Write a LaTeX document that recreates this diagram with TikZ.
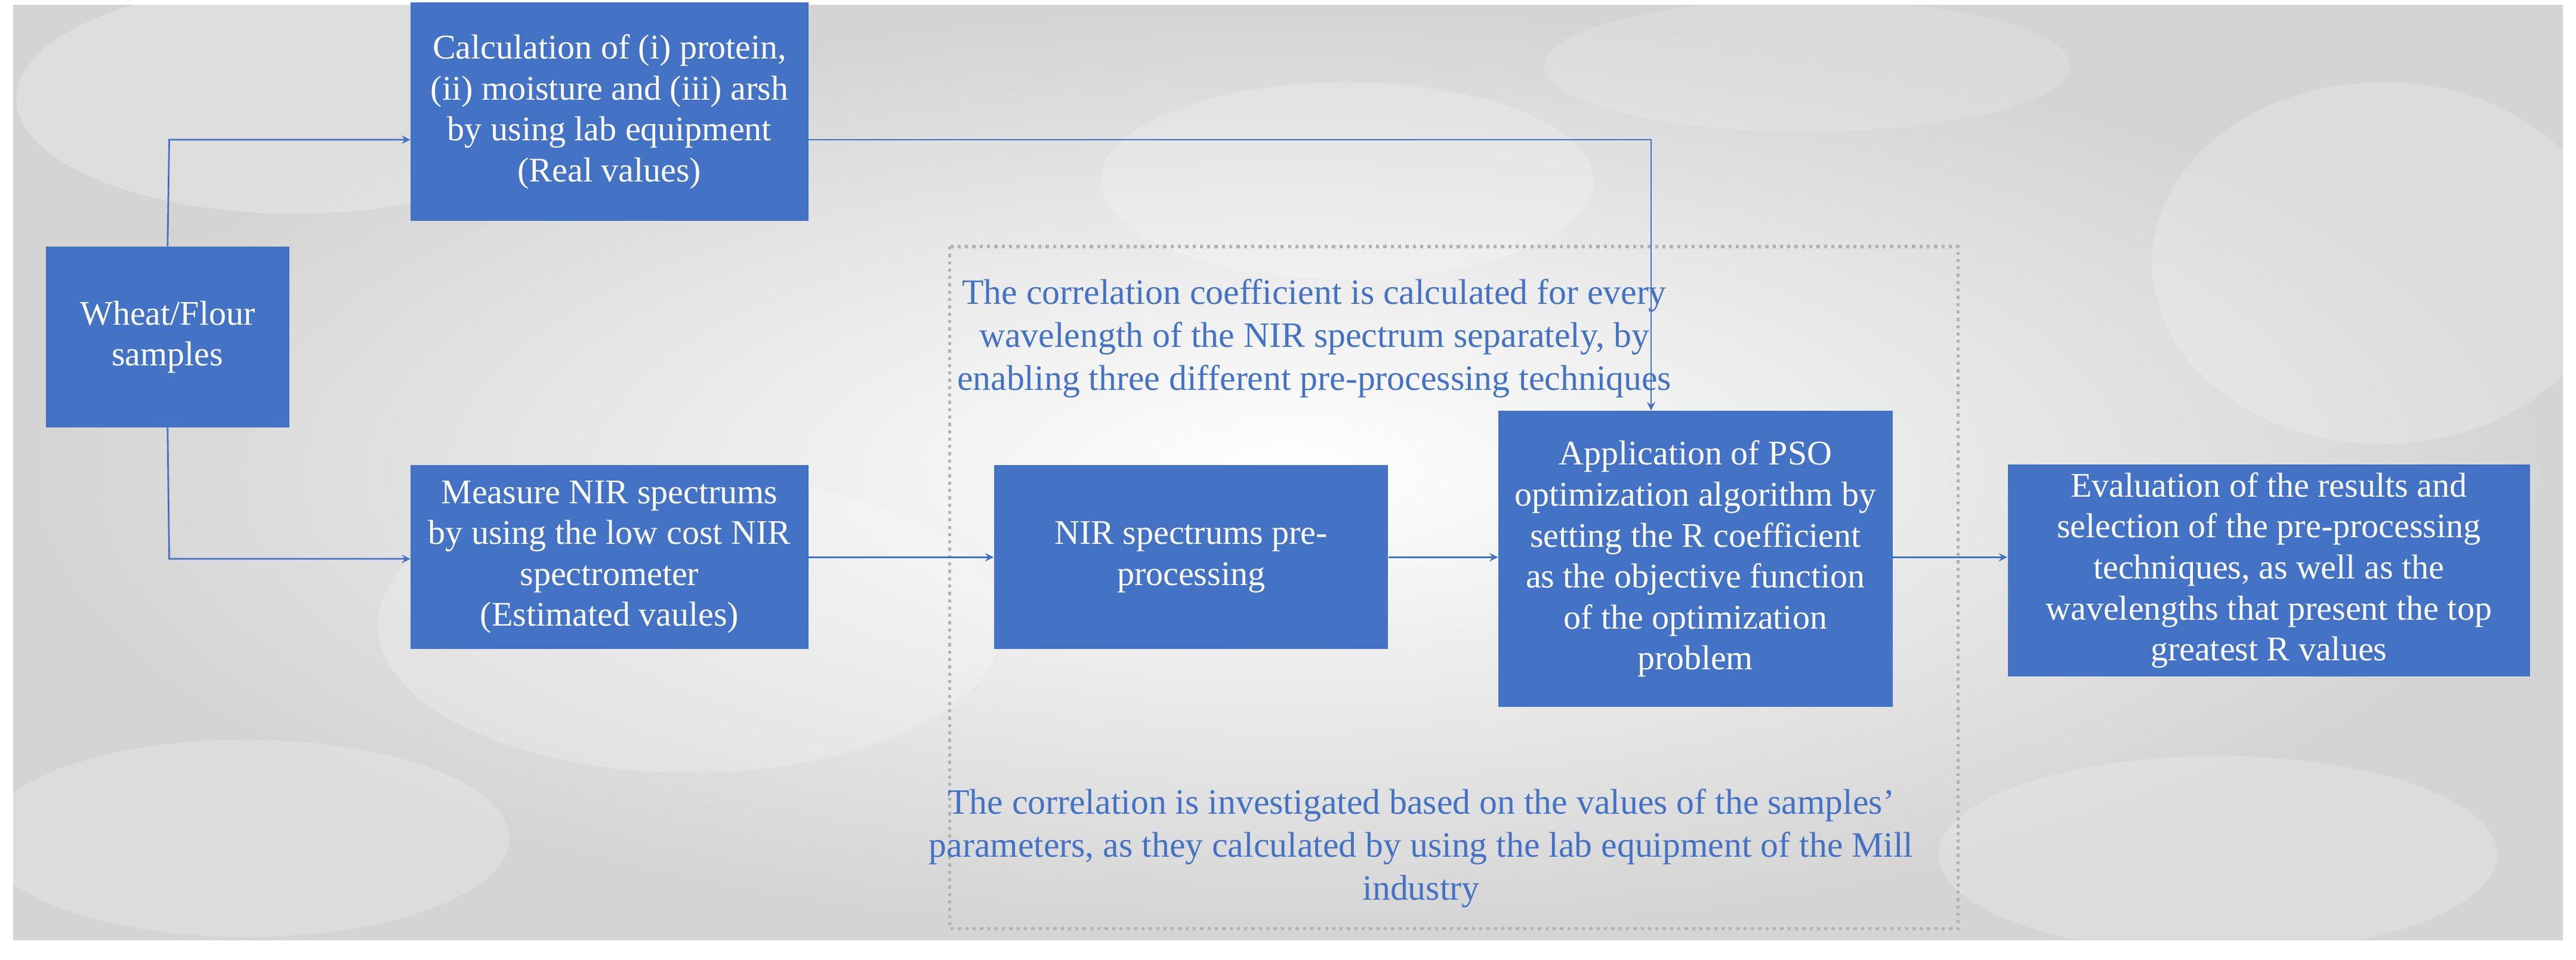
\documentclass[tikz,border=0pt]{standalone}
\usepackage{fontspec}
\setmainfont{Liberation Serif}
\begin{document}
\definecolor{bx}{HTML}{4472C4}
\begin{tikzpicture}[x=0.02753cm,y=-0.02753cm,
  box/.style={fill=bx,text=white,align=center,font=\fontsize{16.5}{19.5}\selectfont,inner sep=0pt},
  lbl/.style={text=bx,align=center,font=\fontsize{17}{20.5}\selectfont},
  con/.style={draw=bx,line width=0.8pt,-stealth}]
\useasboundingbox (0,0) rectangle (1568,584);
\fill[white] (0,0) rectangle (1568,584);
\shade[inner color=white,outer color=black!17] (8,3) rectangle (1560,572);
\begin{scope}
\clip (8,3) rectangle (1560,572);
\fill[white,opacity=0.25] (180,60) ellipse (170 and 70);
\fill[white,opacity=0.2] (820,110) ellipse (150 and 60);
\fill[white,opacity=0.2] (1450,160) ellipse (140 and 110);
\fill[white,opacity=0.2] (150,510) ellipse (160 and 60);
\fill[white,opacity=0.2] (420,380) ellipse (190 and 90);
\fill[white,opacity=0.2] (1350,520) ellipse (170 and 60);
\fill[white,opacity=0.15] (1100,40) ellipse (160 and 40);
\end{scope}
\node[box,minimum width=115.9pt,minimum height=86.1pt] (w) at (102,205) {Wheat/Flour\\samples};
\node[box,minimum width=189.5pt,minimum height=104.1pt] (c) at (371,68) {Calculation of (i) protein,\\(ii) moisture and (iii) arsh\\by using lab equipment\\(Real values)};
\node[box,minimum width=189.5pt,minimum height=87.7pt] (m) at (371,339) {Measure NIR spectrums\\by using the low cost NIR\\spectrometer\\(Estimated vaules)};
\node[box,minimum width=187.9pt,minimum height=87.7pt] (n) at (725,339) {NIR spectrums pre-\\processing};
\node[box,minimum width=187.9pt,minimum height=141pt] (p) at (1032,340) {Application of PSO\\optimization algorithm by\\setting the R coefficient\\as the objective function\\of the optimization\\problem};
\node[box,minimum width=249pt,minimum height=101pt] (e) at (1381,347) {Evaluation of the results and\\selection of the pre-processing\\techniques, as well as the\\wavelengths that present the top\\greatest R values};
\draw[black!30,line width=1.5pt,dotted] (578,150) rectangle (1192,565);
\node[lbl] (t1) at (800,206) {The correlation coefficient is calculated for every\\wavelength of the NIR spectrum separately, by\\enabling three different pre-processing techniques};
\node[lbl] (t2) at (865,516) {The correlation is investigated based on the values of the samples'\\parameters, as they calculated by using the lab equipment of the Mill\\industry};
\coordinate (c1) at (103,85);
\coordinate (c2) at (103,340);
\draw[con] (w.north) -- (c1) -- (c.west|-c1);
\draw[con] (w.south) -- (c2) -- (m.west|-c2);
\draw[con] (m.east) -- (n.west);
\draw[con] (n.east) -- (n.east-|p.west);
\draw[con] (p.east|-n.east) -- (n.east-|e.west);
\coordinate (c3) at (1005,85);
\draw[con] (c.east|-c3) -- (c3) -- (c3|-p.north);
\end{tikzpicture}
\end{document}
